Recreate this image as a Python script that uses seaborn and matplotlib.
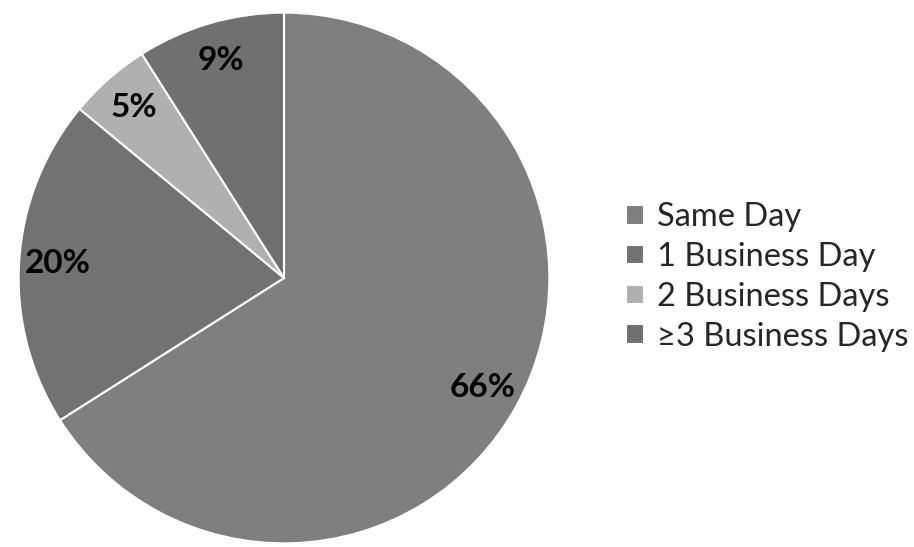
import matplotlib
matplotlib.use("Agg")
import matplotlib.pyplot as plt
import seaborn as sns
import numpy as np

categories = ["Same Day", "1 Business Day", "2 Business Days", "\u22653 Business Days"]
values = [66, 20, 5, 9]
labels_pct = ["66%", "20%", "5%", "9%"]
colors = ["#7f7f7f", "#727272", "#b0b0b0", "#707070"]

sns.set_theme(style="white")
plt.rcParams["font.family"] = ["Lato", "DejaVu Sans"]

W, H = 914, 547
fig = plt.figure(figsize=(W / 100, H / 100), dpi=100)
cx, cy, r = 284, 278, 268
ax = fig.add_axes([(cx - r) / W, (H - cy - r) / H, 2 * r / W, 2 * r / H])

wedges, _ = ax.pie(values, colors=colors, startangle=90, counterclock=False,
                   radius=1, wedgeprops=dict(edgecolor="white", linewidth=1.5))
for w, lab in zip(wedges, labels_pct):
    ang = np.deg2rad((w.theta1 + w.theta2) / 2)
    ax.text(0.855 * np.cos(ang), 0.855 * np.sin(ang), lab, ha="center", va="center",
            fontsize=24, fontweight="bold", color="black")
ax.set_xlim(-1.01, 1.01)
ax.set_ylim(-1.01, 1.01)
ax.set_aspect("equal")
ax.axis("off")

fig.legend(wedges, categories, loc="center left", bbox_to_anchor=(626 / W, 1 - 277 / H),
           frameon=False, fontsize=23.5, handlelength=0.55, handleheight=0.55,
           handletextpad=0.4, labelspacing=0.3, borderpad=0, borderaxespad=0)

fig.savefig("out.png", dpi=100)
